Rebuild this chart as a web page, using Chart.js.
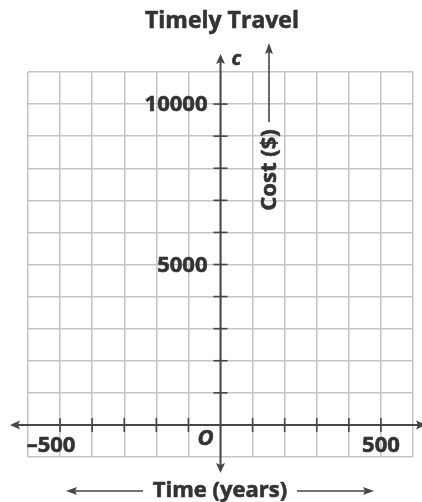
<!DOCTYPE html>
<html>
<head>
<meta charset="utf-8">
<script src="https://cdn.jsdelivr.net/npm/chart.js@4.4.0/dist/chart.umd.min.js"></script>
<style>
  html, body { margin: 0; padding: 0; background: #fff; }
  canvas { display: block; }
</style>
</head>
<body>
<canvas id="c" width="422" height="502"></canvas>
<script>
// ---- data ----
const chartTitle = "Timely Travel";
const xAxisTitle = "Time (years)";
const yAxisTitle = "Cost ($)";
const yVarName = "c";
const originLabel = "O";
const xRange = [-600, 600];
const xStep = 100;
const yRange = [-1000, 11000];
const yStep = 1000;
const xTickMarks = [-500, -400, -300, -200, -100, 100, 200, 300, 400, 500];
const yTickMarks = [1000, 2000, 3000, 4000, 5000, 6000, 7000, 8000, 9000, 10000];
const xTickLabels = [-500, 500];
const yTickLabels = [5000, 10000];
const points = []; // no plotted data in the reference

const FONT = "'Open Sans', 'Noto Sans', sans-serif";
const TEXT = '#333333';
const AXIS = '#474747';

function fmt(v) { return v < 0 ? '\u2013' + Math.abs(v) : String(v); }

function boldText(ctx, s, x, y) {
  ctx.lineWidth = 0.6;
  ctx.strokeStyle = ctx.fillStyle;
  ctx.lineJoin = 'round';
  ctx.strokeText(s, x, y);
  ctx.fillText(s, x, y);
}

const axesPlugin = {
  id: 'axesPlugin',
  afterDraw(chart) {
    const ctx = chart.ctx;
    const xs = chart.scales.x, ys = chart.scales.y;
    const x0 = xs.getPixelForValue(0);
    const y0 = ys.getPixelForValue(0);
    ctx.save();
    ctx.strokeStyle = AXIS;
    ctx.fillStyle = AXIS;
    ctx.lineWidth = 2;
    // x axis
    ctx.beginPath();
    ctx.moveTo(14, y0); ctx.lineTo(422, y0); ctx.stroke();
    ctx.beginPath();
    ctx.moveTo(10, y0); ctx.lineTo(20, y0 - 4.5); ctx.lineTo(18, y0); ctx.lineTo(20, y0 + 4.5); ctx.closePath(); ctx.fill();
    ctx.beginPath();
    ctx.moveTo(426, y0); ctx.lineTo(416, y0 - 4.5); ctx.lineTo(418, y0); ctx.lineTo(416, y0 + 4.5); ctx.closePath(); ctx.fill();
    // y axis
    ctx.beginPath();
    ctx.moveTo(x0, 58); ctx.lineTo(x0, 468); ctx.stroke();
    ctx.beginPath();
    ctx.moveTo(x0, 54); ctx.lineTo(x0 - 4.5, 64); ctx.lineTo(x0, 62); ctx.lineTo(x0 + 4.5, 64); ctx.closePath(); ctx.fill();
    ctx.beginPath();
    ctx.moveTo(x0, 473); ctx.lineTo(x0 - 4.5, 463); ctx.lineTo(x0, 465); ctx.lineTo(x0 + 4.5, 463); ctx.closePath(); ctx.fill();
    // ticks
    ctx.lineWidth = 1.6;
    xTickMarks.forEach(v => {
      const px = xs.getPixelForValue(v);
      ctx.beginPath(); ctx.moveTo(px, y0 - 7); ctx.lineTo(px, y0 + 7); ctx.stroke();
    });
    yTickMarks.forEach(v => {
      const py = ys.getPixelForValue(v);
      ctx.beginPath(); ctx.moveTo(x0 - 7, py); ctx.lineTo(x0 + 7, py); ctx.stroke();
    });
    // tick labels
    ctx.fillStyle = TEXT;
    ctx.font = "bold 22px " + FONT;
    ctx.textAlign = 'right'; ctx.textBaseline = 'middle';
    yTickLabels.forEach(v => {
      boldText(ctx, fmt(v), x0 - 13, ys.getPixelForValue(v) + 1);
    });
    ctx.textAlign = 'center';
    xTickLabels.forEach(v => {
      boldText(ctx, fmt(v), xs.getPixelForValue(v) + (v < 0 ? -9 : 0), y0 + 21);
    });
    // origin and variable labels
    ctx.font = "italic bold 22px " + FONT;
    boldText(ctx, originLabel, x0 - 15, y0 + 14);
    ctx.font = "italic bold 20px " + FONT;
    ctx.textAlign = 'left';
    boldText(ctx, yVarName, x0 + 11, 59);
    // title
    ctx.textAlign = 'center';
    ctx.font = "bold 23px " + FONT;
    boldText(ctx, chartTitle, 222, 21);
    // x axis title with arrows
    ctx.font = "bold 22px " + FONT;
    boldText(ctx, xAxisTitle, 220, 491);
    ctx.strokeStyle = AXIS; ctx.fillStyle = AXIS; ctx.lineWidth = 1.6;
    const ya = 491;
    ctx.beginPath(); ctx.moveTo(70, ya); ctx.lineTo(143, ya); ctx.moveTo(297, ya); ctx.lineTo(370, ya); ctx.stroke();
    ctx.beginPath(); ctx.moveTo(66, ya); ctx.lineTo(77, ya - 4); ctx.lineTo(75, ya); ctx.lineTo(77, ya + 4); ctx.closePath(); ctx.fill();
    ctx.beginPath(); ctx.moveTo(374, ya); ctx.lineTo(363, ya - 4); ctx.lineTo(365, ya); ctx.lineTo(363, ya + 4); ctx.closePath(); ctx.fill();
    // y axis title rotated with arrow
    const xc = 269;
    ctx.beginPath(); ctx.moveTo(xc, 48); ctx.lineTo(xc, 122); ctx.stroke();
    ctx.beginPath(); ctx.moveTo(xc, 43); ctx.lineTo(xc - 4, 54); ctx.lineTo(xc, 52); ctx.lineTo(xc + 4, 54); ctx.closePath(); ctx.fill();
    ctx.save();
    ctx.translate(xc, 170);
    ctx.rotate(-Math.PI / 2);
    ctx.fillStyle = TEXT;
    ctx.textAlign = 'center'; ctx.textBaseline = 'middle';
    ctx.font = "bold 22px " + FONT;
    boldText(ctx, yAxisTitle, 0, 1);
    ctx.restore();
    ctx.restore();
  }
};

new Chart(document.getElementById('c'), {
  type: 'scatter',
  data: { datasets: [{ data: points, pointRadius: 0 }] },
  options: {
    responsive: false,
    animation: false,
    devicePixelRatio: 1,
    layout: { padding: { left: 28, right: 9, top: 72, bottom: 45 } },
    plugins: { legend: { display: false }, tooltip: { enabled: false }, title: { display: false } },
    scales: {
      x: {
        type: 'linear', min: xRange[0], max: xRange[1],
        ticks: { stepSize: xStep, display: false },
        grid: { color: '#c4c4c4', lineWidth: 1.5, drawTicks: false },
        border: { display: false }
      },
      y: {
        type: 'linear', min: yRange[0], max: yRange[1],
        ticks: { stepSize: yStep, display: false },
        grid: { color: '#c4c4c4', lineWidth: 1.5, drawTicks: false },
        border: { display: false }
      }
    }
  },
  plugins: [axesPlugin]
});
</script>
</body>
</html>
